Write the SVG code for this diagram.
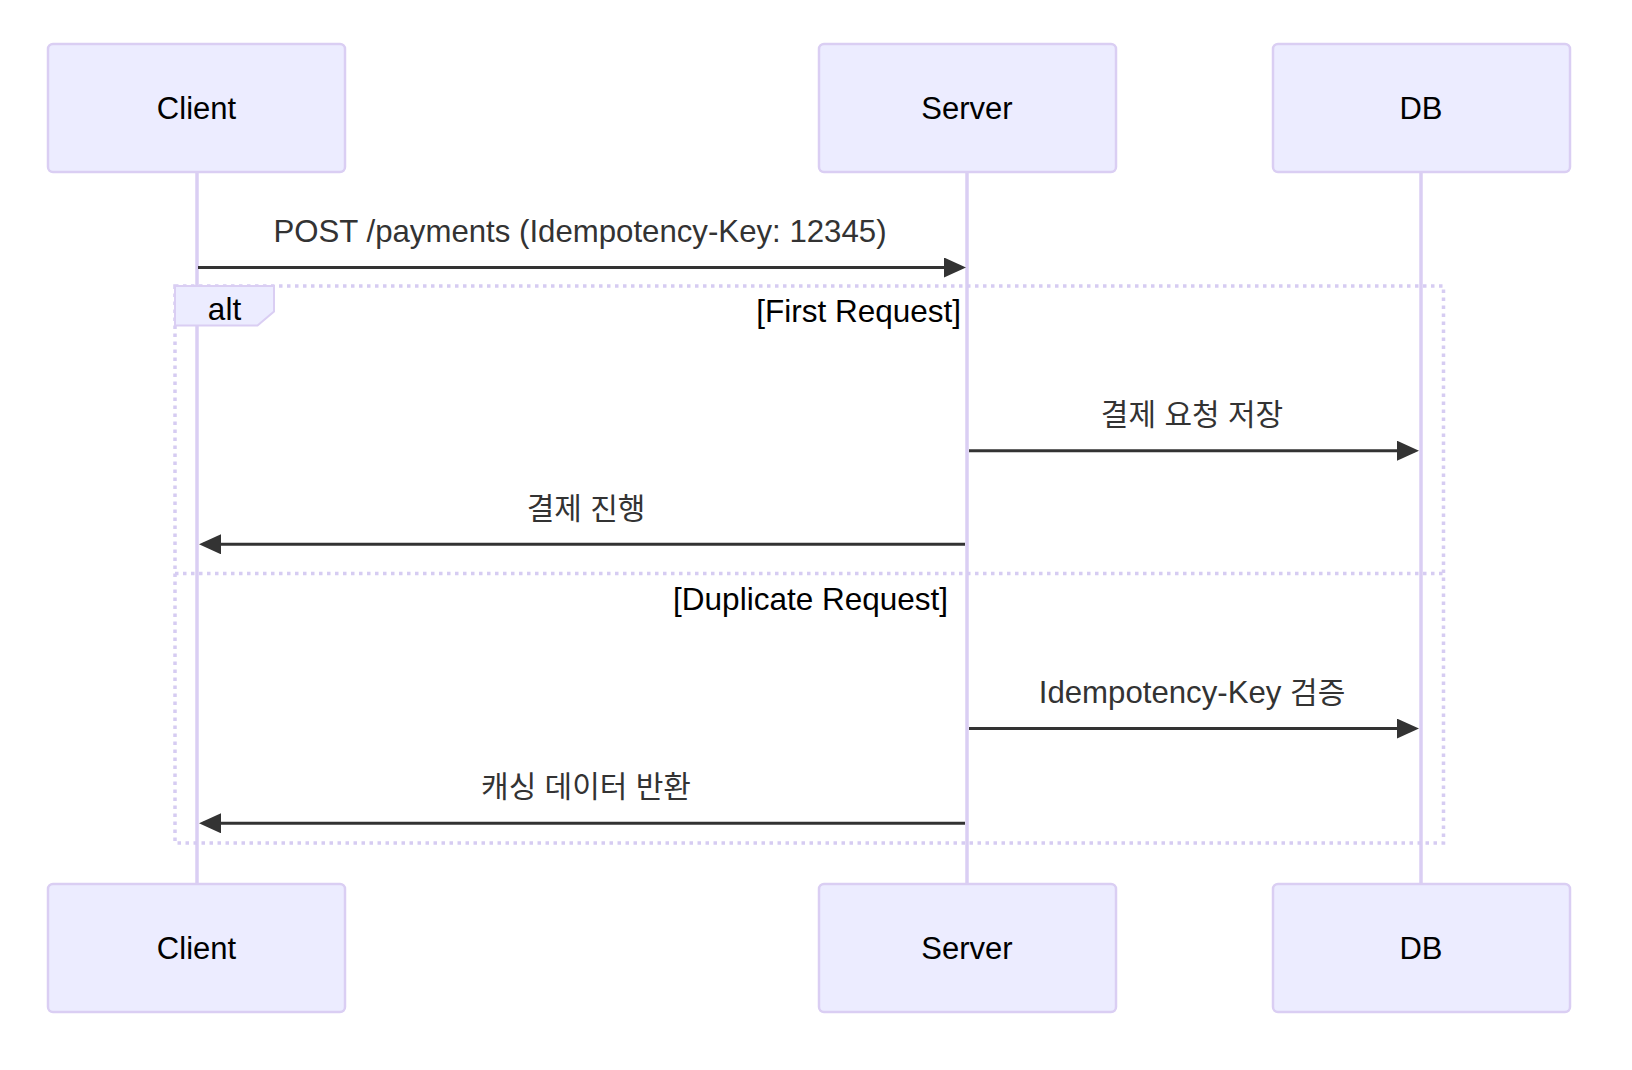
<svg xmlns="http://www.w3.org/2000/svg" width="1632" height="1070" viewBox="0 0 1632 1070">
<style>
.actor{fill:#ECECFF;stroke:#DACEF3;stroke-width:2.5}
.atext{font-family:"Liberation Sans","Noto Sans CJK KR",sans-serif;font-size:31px;fill:#000;text-anchor:middle}
.life{stroke:#DACEF3;stroke-width:3.5}
.msg{stroke:#333;stroke-width:3;fill:none}
.mtext{font-family:"Liberation Sans","Noto Sans CJK KR",sans-serif;font-size:31.2px;fill:#333;text-anchor:middle}
.ko{font-size:30px}
.loop{fill:none;stroke:#D6CCF2;stroke-width:3.5;stroke-dasharray:3.5 4.5}
.lbl{fill:#ECECFF;stroke:#DACEF3;stroke-width:2}
.ltext{font-family:"Liberation Sans","Noto Sans CJK KR",sans-serif;font-size:31.5px;fill:#000}
</style>
<defs>
<marker id="arrow" markerUnits="userSpaceOnUse" markerWidth="22" markerHeight="20" refX="18" refY="10" orient="auto">
<path d="M0,0 L22,10 L0,20 z" fill="#333"/>
</marker>
</defs>
<rect width="1632" height="1070" fill="#fff"/>
<g id="lifelines">
<line class="life" x1="197" y1="172" x2="197" y2="884"/>
<line class="life" x1="967" y1="172" x2="967" y2="884"/>
<line class="life" x1="1421" y1="172" x2="1421" y2="884"/>
</g>
<g id="alt-block">
<rect class="loop" x="175" y="286" width="1268.5" height="557"/>
<line class="loop" x1="175" y1="573.5" x2="1443.5" y2="573.5"/>
<polygon class="lbl" points="175,286 274,286 274,311.5 257.5,325.5 175,325.5"/>
<text class="ltext" x="224.5" y="320" text-anchor="middle">alt</text>
<text class="ltext" x="961" y="322" text-anchor="end">[First Request]</text>
<text class="ltext" x="948" y="609.5" text-anchor="end">[Duplicate Request]</text>
</g>
<g id="client-top"><rect class="actor" x="48" y="44" width="297" height="128" rx="5"/><text class="atext" x="196.5" y="119">Client</text></g>
<g id="server-top"><rect class="actor" x="819" y="44" width="297" height="128" rx="5"/><text class="atext" x="967" y="119">Server</text></g>
<g id="db-top"><rect class="actor" x="1273" y="44" width="297" height="128" rx="5"/><text class="atext" x="1421" y="119">DB</text></g>
<g id="client-bottom"><rect class="actor" x="48" y="884" width="297" height="128" rx="5"/><text class="atext" x="196.5" y="959">Client</text></g>
<g id="server-bottom"><rect class="actor" x="819" y="884" width="297" height="128" rx="5"/><text class="atext" x="967" y="959">Server</text></g>
<g id="db-bottom"><rect class="actor" x="1273" y="884" width="297" height="128" rx="5"/><text class="atext" x="1421" y="959">DB</text></g>
<g id="connectors">
<line class="msg" x1="198" y1="267.5" x2="962" y2="267.5" marker-end="url(#arrow)"/>
<text class="mtext" x="580" y="242">POST /payments (Idempotency-Key: 12345)</text>
<line class="msg" x1="969" y1="450.7" x2="1415" y2="450.7" marker-end="url(#arrow)"/>
<text class="mtext ko" x="1192" y="425">결제 요청 저장</text>
<line class="msg" x1="965" y1="544.3" x2="203" y2="544.3" marker-end="url(#arrow)"/>
<text class="mtext ko" x="586" y="518.5">결제 진행</text>
<line class="msg" x1="969" y1="728.6" x2="1415" y2="728.6" marker-end="url(#arrow)"/>
<text class="mtext" x="1192" y="702.5">Idempotency-Key <tspan class="ko">검증</tspan></text>
<line class="msg" x1="965" y1="823.3" x2="203" y2="823.3" marker-end="url(#arrow)"/>
<text class="mtext ko" x="586" y="796.5">캐싱 데이터 반환</text>
</g>
</svg>
